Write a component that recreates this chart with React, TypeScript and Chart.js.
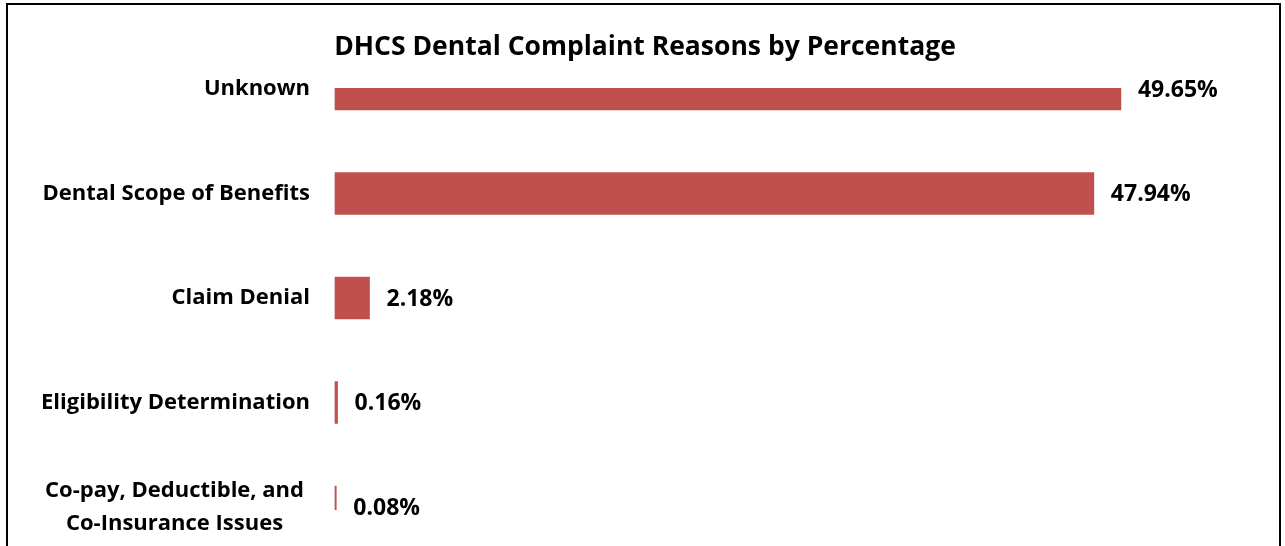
import React, { useEffect, useRef } from "react";
import { Chart, registerables } from "chart.js";

Chart.register(...registerables);

const TITLE = "DHCS Dental Complaint Reasons by Percentage";
const CATEGORIES: (string | string[])[] = [
  "Unknown",
  "Dental Scope of Benefits",
  "Claim Denial",
  "Eligibility Determination",
  ["Co-pay, Deductible, and", "Co-Insurance Issues"],
];
const VALUES = [49.65, 47.94, 2.18, 0.16, 0.08];
const VALUE_LABELS = ["49.65%", "47.94%", "2.18%", "0.16%", "0.08%"];
const BAR_COLOR = "#C0504D";
const FONT = "'Open Sans', sans-serif";

const textPlugin = {
  id: "textPlugin",
  afterDraw(chart: any) {
    const ctx = chart.ctx;
    const xs = chart.scales.x;
    const ys = chart.scales.y;
    ctx.save();
    ctx.fillStyle = "#000";
    // title
    ctx.font = `bold 26.5px ${FONT}`;
    ctx.textAlign = "center";
    ctx.textBaseline = "alphabetic";
    ctx.fillText(TITLE, 645, 55);
    // category labels
    ctx.font = `bold 22px ${FONT}`;
    ctx.textBaseline = "middle";
    CATEGORIES.forEach((c, i) => {
      const y = ys.getPixelForValue(i);
      if (Array.isArray(c)) {
        const w = Math.max(...c.map((l) => ctx.measureText(l).width));
        const cx = 304 - w / 2;
        ctx.textAlign = "center";
        const lh = 33;
        c.forEach((l, j) => {
          ctx.fillText(l, cx, y + (j - (c.length - 1) / 2) * lh);
        });
      } else {
        ctx.textAlign = "right";
        ctx.fillText(c, 310, y);
      }
    });
    // value labels
    ctx.font = `bold 23px ${FONT}`;
    ctx.textAlign = "left";
    VALUES.forEach((v, i) => {
      const x = xs.getPixelForValue(v) + 17;
      const y = ys.getPixelForValue(i);
      ctx.fillText(VALUE_LABELS[i], x, y + 1);
    });
    ctx.restore();
  },
};

export default function App() {
  const ref = useRef<HTMLCanvasElement>(null);
  useEffect(() => {
    if (!ref.current) return;
    const chart = new Chart(ref.current, {
      type: "bar",
      data: {
        labels: CATEGORIES.map((c) => (Array.isArray(c) ? c.join(" ") : c)),
        datasets: [
          {
            data: VALUES,
            backgroundColor: BAR_COLOR,
            borderWidth: 0,
            barThickness: 42,
            clip: { left: 5, top: 1, right: 5, bottom: 3 } as any,
          },
        ],
      },
      options: {
        indexAxis: "y",
        animation: false,
        responsive: false,
        devicePixelRatio: 1,
        layout: { padding: { left: 335, right: 79.4, top: 89, bottom: 39 } },
        plugins: {
          legend: { display: false },
          title: { display: false },
          tooltip: { enabled: false },
        },
        scales: {
          x: {
            display: false,
            min: 0,
            max: 55,
          },
          y: {
            display: false,
            offset: false,
          },
        },
      },
      plugins: [textPlugin],
    });
    return () => chart.destroy();
  }, []);
  return (
    <div>
      <div
        style={{
          position: "absolute",
          left: 6,
          top: 3,
          width: 1275,
          height: 600,
          border: "2px solid #000",
          boxSizing: "border-box",
        }}
      />
      <canvas
        ref={ref}
        width={1285}
        height={546}
        style={{ position: "absolute", left: 0, top: 0, width: 1285, height: 546 }}
      />
    </div>
  );
}
